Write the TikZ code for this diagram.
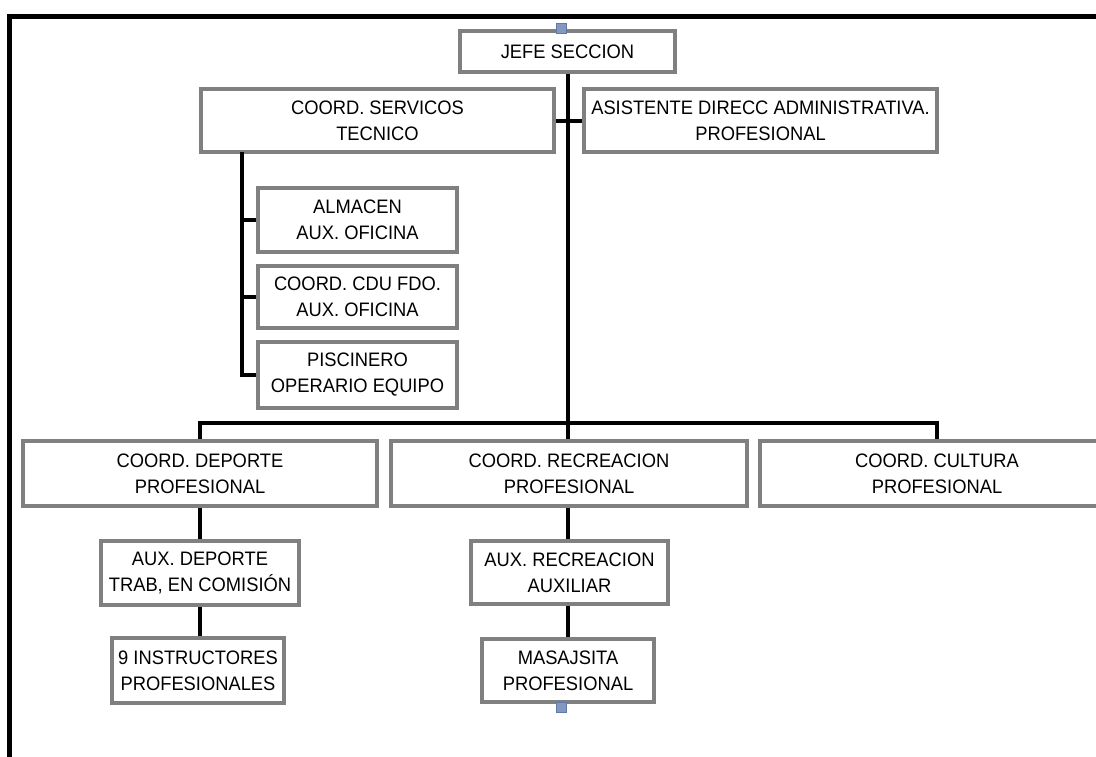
\documentclass[tikz,border=0pt]{standalone}
\usepackage{fontspec}
\setmainfont[FakeStretch=0.94]{Liberation Sans}
\definecolor{boxgray}{RGB}{128,128,128}
\definecolor{handlefill}{RGB}{130,152,190}
\definecolor{handledraw}{RGB}{95,120,165}
\tikzset{
  orgbox/.style={draw=boxgray, line width=3.5pt, fill=white, inner sep=0pt, align=center,
    font=\fontsize{19.5}{26}\selectfont, text=black},
  conn/.style={draw=black, line width=4pt},
  handle/.style={draw=handledraw, fill=handlefill, line width=1pt, minimum size=10pt, inner sep=0pt},
}
\begin{document}
\begin{tikzpicture}[x=1pt,y=-1pt]
\clip (0,0) rectangle (1096,756);
\fill[white] (0,0) rectangle (1096,756);
% outer frame (cropped at right and bottom)
\draw[line width=5pt] (9.5,16.5) rectangle (1130,790);

% connectors
\coordinate (busy) at (0,423);
\coordinate (svtop) at (242,152);

\node[orgbox, minimum width=215pt, minimum height=41pt] (jefe) at (567.5,51.5) {JEFE SECCION};
\node[orgbox, minimum width=353pt, minimum height=63pt] (serv) at (377.5,120.5) {COORD. SERVICOS\\TECNICO};
\node[orgbox, minimum width=353pt, minimum height=63pt] (asis) at (760.5,120.5) {ASISTENTE DIRECC ADMINISTRATIVA.\\PROFESIONAL};
\node[orgbox, minimum width=199pt, minimum height=64pt] (alm) at (357.5,220) {ALMACEN\\AUX. OFICINA};
\node[orgbox, minimum width=199pt, minimum height=62pt] (cdu) at (357.5,297) {COORD. CDU FDO.\\AUX. OFICINA};
\node[orgbox, minimum width=199pt, minimum height=66pt] (pisc) at (357.5,375) {PISCINERO\\OPERARIO EQUIPO};
\node[orgbox, minimum width=354pt, minimum height=65pt] (dep) at (200,473.5) {COORD. DEPORTE\\PROFESIONAL};
\node[orgbox, minimum width=356pt, minimum height=65pt] (rec) at (569,473.5) {COORD. RECREACION\\PROFESIONAL};
\node[orgbox, minimum width=354pt, minimum height=65pt] (cul) at (937,473.5) {COORD. CULTURA\\PROFESIONAL};
\node[orgbox, minimum width=198pt, minimum height=64pt] (auxdep) at (200,573) {AUX. DEPORTE\\TRAB, EN COMISIÓN};
\node[orgbox, minimum width=172pt, minimum height=65pt] (inst) at (198,670.5) {9 INSTRUCTORES\\PROFESIONALES};
\node[orgbox, minimum width=197pt, minimum height=63pt] (auxrec) at (569.5,572.5) {AUX. RECREACION\\AUXILIAR};
\node[orgbox, minimum width=172pt, minimum height=63pt] (mas) at (568,670.5) {MASAJSITA\\PROFESIONAL};

\draw[conn] (jefe.south -| 568,0) -- (568,0 |- rec.north);
\draw[conn] (serv.east) -- (asis.west);
\draw[conn] (svtop) -- (svtop |- pisc.west) -- (pisc.west);
\draw[conn] (alm.west) -- (alm.west -| svtop);
\draw[conn] (cdu.west) -- (cdu.west -| svtop);
\draw[conn] (dep.north) -- (dep.north |- busy) -- (cul.north |- busy) -- (cul.north);
\draw[conn] (dep.south) -- (auxdep.north);
\draw[conn] (auxdep.south) -- (auxdep.south |- inst.north);
\draw[conn] (568,0 |- rec.south) -- (568,0 |- auxrec.north);
\draw[conn] (568,0 |- auxrec.south) -- (mas.north);

\node[handle] (h1) at (561,28) {};
\node[handle] (h2) at (561,707) {};
\end{tikzpicture}
\end{document}
